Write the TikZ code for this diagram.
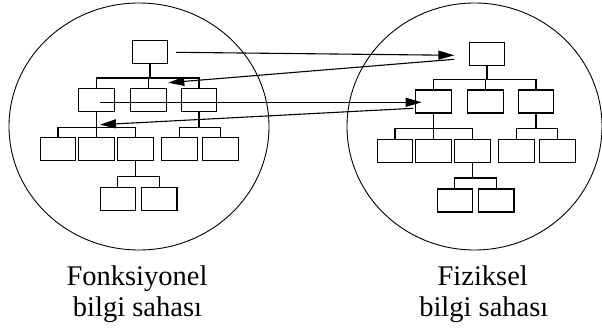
\documentclass[tikz,border=0pt]{standalone}
\usepackage{fontspec}
\setmainfont{Liberation Serif}
\usetikzlibrary{arrows.meta}

% one box of an organisation chart
\tikzset{
  orgbox/.style={draw, line width=1.1pt, minimum width=35.5pt, minimum height=23pt, inner sep=0pt},
  tie/.style={line width=1.1pt},
  field/.style={line width=0.9pt},
  link/.style={line width=1.1pt, -{Triangle[length=16pt,width=9pt]}},
  caption/.style={anchor=base, inner sep=0pt, font=\fontsize{28.5}{31}\selectfont}
}

% \orgtree{prefix}{dx}{dy}: hierarchy with four levels
\newcommand\orgtree[3]{%
  \begin{scope}[shift={(#2,#3)}]
    \node[orgbox] (#1-t)  at (150,52.3) {};
    \node[orgbox] (#1-a)  at (96.5,100.2) {};
    \node[orgbox] (#1-b)  at (148.5,100.2) {};
    \node[orgbox] (#1-c)  at (199,100.2) {};
    \node[orgbox] (#1-a1) at (58,149.3) {};
    \node[orgbox] (#1-a2) at (96.5,149.3) {};
    \node[orgbox] (#1-a3) at (135.3,149.3) {};
    \node[orgbox] (#1-c1) at (179.3,149.3) {};
    \node[orgbox] (#1-c2) at (220.3,149.3) {};
    \node[orgbox] (#1-d1) at (117.8,199.2) {};
    \node[orgbox] (#1-d2) at (159.2,199.2) {};
    \foreach \k in {a,b,c} \draw[tie] (#1-t.south) -- ++(0,13.7) -| (#1-\k.north);
    \foreach \k in {a1,a2,a3} \draw[tie] (#1-a.south) -- ++(0,15.3) -| (#1-\k.north);
    \foreach \k in {c1,c2} \draw[tie] (#1-c.south) -- ++(0,15.3) -| (#1-\k.north);
    \foreach \k in {d1,d2} \draw[tie] (#1-a3.south) -- ++(0,15.4) -| (#1-\k.north);
  \end{scope}}

\begin{document}
\begin{tikzpicture}[x=1pt,y=-1pt]
  \useasboundingbox (0,0) rectangle (602,331);

  % the two information fields
  \draw[field] (139,126.5) ellipse [x radius=130, y radius=123.5];
  \draw[field] (474.5,126.5) ellipse [x radius=127.5, y radius=123.5];

  \orgtree{F}{0}{0}
  \orgtree{P}{337}{1.3}

  % free ends of the mapping arrows
  \coordinate (m1s) at (176,52.3);
  \coordinate (m1e) at (454.3,55.3);
  \coordinate (m2s) at (454.3,59.3);
  \coordinate (m2e) at (168.3,82.7);
  \coordinate (m3s) at (100,102.3);
  \coordinate (m3e) at (421.7,102.3);
  \coordinate (m4s) at (413.3,108.3);
  \coordinate (m4e) at (100,124.7);

  \draw[link] (m1s) -- (m1e);
  \draw[link] (m2s) -- (m2e);
  \draw[link] (m3s) -- (m3e);
  \draw[link] (m4s) -- (m4e);

  % captions
  \node[caption] (fa) at (137,285.7) {Fonksiyonel};
  \node[caption] (fb) at (137.5,316.7) {bilgi sahası};
  \node[caption] (pa) at (482.7,285.7) {Fiziksel};
  \node[caption] (pb) at (483.8,316.7) {bilgi sahası};
\end{tikzpicture}
\end{document}
